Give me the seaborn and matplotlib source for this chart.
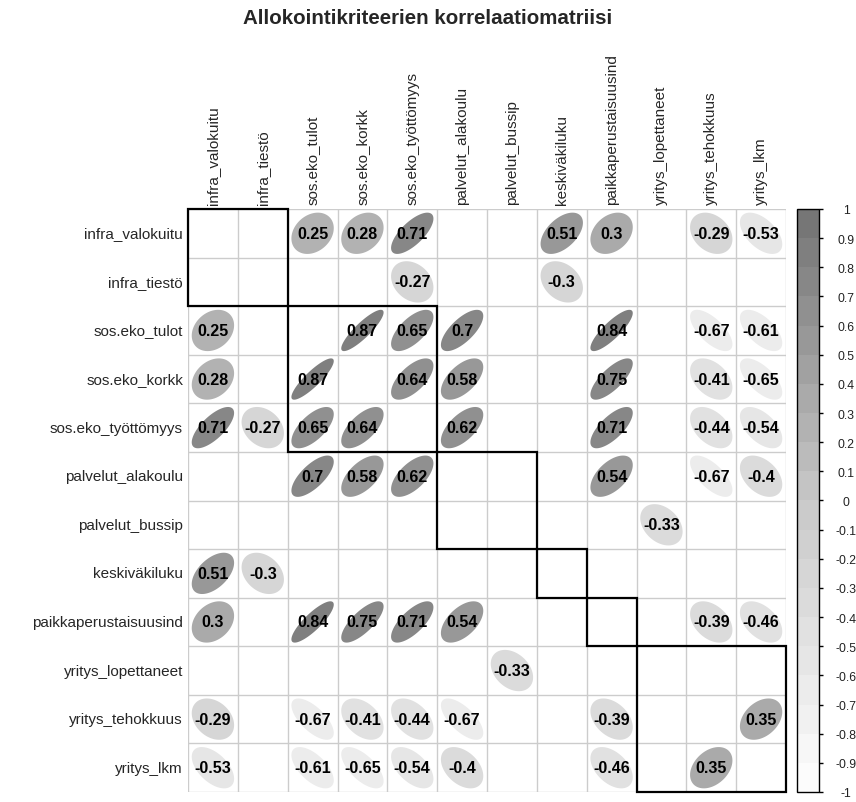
import numpy as np
import pandas as pd
import seaborn as sns
import matplotlib.pyplot as plt
from matplotlib.colors import LinearSegmentedColormap, ListedColormap, Normalize
from matplotlib.patches import Polygon, Rectangle

labels = ["infra_valokuitu", "infra_tiestö", "sos.eko_tulot", "sos.eko_korkk",
          "sos.eko_työttömyys", "palvelut_alakoulu", "palvelut_bussip",
          "keskiväkiluku", "paikkaperustaisuusind", "yritys_lopettaneet",
          "yritys_tehokkuus", "yritys_lkm"]

nan = np.nan
# blank cells = not shown in the original (diagonal / non-significant)
corr_rows = [
    [nan, nan, 0.25, 0.28, 0.71, nan, nan, 0.51, 0.3, nan, -0.29, -0.53],
    [nan, nan, nan, nan, -0.27, nan, nan, -0.3, nan, nan, nan, nan],
    [0.25, nan, nan, 0.87, 0.65, 0.7, nan, nan, 0.84, nan, -0.67, -0.61],
    [0.28, nan, 0.87, nan, 0.64, 0.58, nan, nan, 0.75, nan, -0.41, -0.65],
    [0.71, -0.27, 0.65, 0.64, nan, 0.62, nan, nan, 0.71, nan, -0.44, -0.54],
    [nan, nan, 0.7, 0.58, 0.62, nan, nan, nan, 0.54, nan, -0.67, -0.4],
    [nan, nan, nan, nan, nan, nan, nan, nan, nan, -0.33, nan, nan],
    [0.51, -0.3, nan, nan, nan, nan, nan, nan, nan, nan, nan, nan],
    [0.3, nan, 0.84, 0.75, 0.71, 0.54, nan, nan, nan, nan, -0.39, -0.46],
    [nan, nan, nan, nan, nan, nan, -0.33, nan, nan, nan, nan, nan],
    [-0.29, nan, -0.67, -0.41, -0.44, -0.67, nan, nan, -0.39, nan, nan, 0.35],
    [-0.53, nan, -0.61, -0.65, -0.54, -0.4, nan, nan, -0.46, nan, 0.35, nan],
]
cluster_sizes = [2, 3, 2, 1, 1, 3]

corr = pd.DataFrame(corr_rows, index=labels, columns=labels)
n = len(labels)

sns.set_style("white")
plt.rcParams["font.family"] = ["Liberation Sans", "DejaVu Sans"]

# grey palette, white at -1 to dark grey at 1, 20 bands like corrplot legend
base = LinearSegmentedColormap.from_list("greys", ["#FFFFFF", "#C8C8C8", "#727272"])
cmap = ListedColormap(base(np.linspace(0.025, 0.975, 20)))
norm = Normalize(vmin=-1, vmax=1)

W, H = 856, 803
fig = plt.figure(figsize=(W / 100, H / 100), dpi=100)
ax = fig.add_axes([188 / W, 1 - 793 / H, 598 / W, 583 / H])
cax = fig.add_axes([797 / W, 1 - 793 / H, 22 / W, 583 / H])

ticks = np.round(np.arange(-1, 1.01, 0.1), 1) + 0.0

sns.heatmap(corr, mask=np.ones((n, n), dtype=bool), cmap=cmap, vmin=-1, vmax=1,
            ax=ax, cbar_ax=cax, square=False, cbar_kws={"ticks": ticks})

# grid
ax.hlines(np.arange(n + 1), 0, n, color="#CCCCCC", lw=1, zorder=1)
ax.vlines(np.arange(n + 1), 0, n, color="#CCCCCC", lw=1, zorder=1)

# ellipses + numbers
t = np.linspace(0, 2 * np.pi, 100)
s = 0.425
for i in range(n):
    for j in range(n):
        r = corr.iat[i, j]
        if np.isnan(r):
            continue
        d = np.arccos(r)
        xs = j + 0.5 + s * np.cos(t + d / 2)
        ys = i + 0.5 - s * np.cos(t - d / 2)
        ax.add_patch(Polygon(np.column_stack([xs, ys]), closed=True,
                             facecolor=cmap(norm(r)), edgecolor="none", zorder=2))
        ax.text(j + 0.5, i + 0.5, f"{round(r, 2):g}", ha="center", va="center",
                fontsize=11.5, fontweight="bold", color="black", zorder=3)

# cluster rectangles
start = 0
for k in cluster_sizes:
    ax.add_patch(Rectangle((start, start), k, k, fill=False, edgecolor="black",
                           lw=1.6, zorder=4, clip_on=False))
    start += k

ax.set_xlim(0, n)
ax.set_ylim(n, 0)
ax.xaxis.tick_top()
ax.set_xticks(np.arange(n) + 0.5)
ax.set_xticklabels(labels, rotation=90, ha="center", va="bottom", fontsize=11)
ax.set_yticks(np.arange(n) + 0.5)
ax.set_yticklabels(labels, rotation=0, ha="right", va="center", fontsize=11)
ax.tick_params(axis="both", length=0, pad=3.6)
ax.set_xlabel("")
ax.set_ylabel("")

# colorbar styling
cbar = ax.collections[0].colorbar
cbar.outline.set_edgecolor("black")
cbar.outline.set_linewidth(1)
cax.tick_params(axis="y", length=3, width=1, color="black", pad=16.5,
                labelsize=8.8, labelcolor="#222222")
cax.set_yticks(ticks)
cax.set_yticklabels([f"{v:g}" for v in ticks])
for lab in cax.get_yticklabels():
    lab.set_ha("center")

fig.text(427.5 / W, 1 - 18 / H, "Allokointikriteerien korrelaatiomatriisi",
         ha="center", va="center", fontsize=14.8, fontweight="bold")

fig.savefig("out.png", dpi=100)
